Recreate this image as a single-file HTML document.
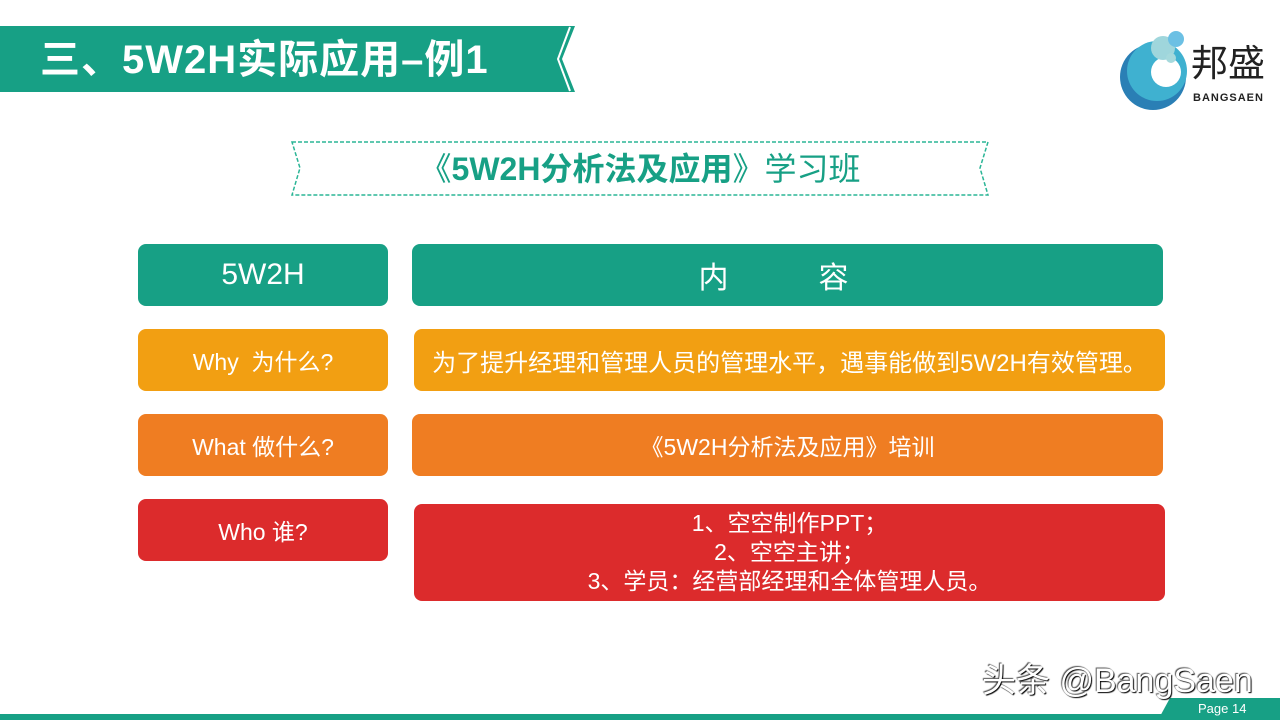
<!DOCTYPE html>
<html><head><meta charset="utf-8"><style>
body{margin:0;width:1280px;height:720px;background:#fff;position:relative;overflow:hidden;font-family:"Liberation Sans","Noto Sans CJK SC",sans-serif}
.b{position:absolute;border-radius:8px;color:#fff;display:flex;align-items:center;justify-content:center;text-align:center;font-size:22px}
.g{background:#17a085}.y{background:#f29f12}.o{background:#ef7d22}.r{background:#dc2b2c}
</style></head><body>
<svg width="1280" height="720" style="position:absolute;left:0;top:0">
<polygon points="0,26 575,26 562,59 575,92 0,92" fill="#17a085"/>
<polyline points="570,27 558,59 570,91" fill="none" stroke="#fff" stroke-width="2"/>
<polygon points="292,142 988,142 980,168 988,195 292,195 300,168" fill="none" stroke="#2bb596" stroke-width="1.5" stroke-dasharray="4,2"/>
<circle cx="1153" cy="77" r="33" fill="#2a7fb5"/>
<circle cx="1157" cy="71" r="30" fill="#3fb1d0"/>
<circle cx="1166" cy="72" r="15" fill="#fff"/>
<circle cx="1163" cy="48" r="12" fill="#9fd6dc"/>
<circle cx="1176" cy="39" r="8" fill="#6cc0e4"/>
<circle cx="1171" cy="58" r="5" fill="#a6d9dc"/>
<rect x="0" y="714" width="1280" height="6" fill="#17a085"/>
<polygon points="1170,698 1280,698 1280,720 1158,720" fill="#17a085"/>
</svg>
<div style="position:absolute;left:40px;top:36px;font-size:40px;font-weight:bold;color:#fff;line-height:48px;letter-spacing:1px">三、5W2H实际应用–例1</div>
<div style="position:absolute;left:1191px;top:42px;font-size:37px;color:#222;line-height:44px">邦盛</div>
<div style="position:absolute;left:1193px;top:92px;font-size:11px;font-weight:bold;color:#222;letter-spacing:1px">BANGSAEN</div>
<div style="position:absolute;left:292px;top:149px;width:696px;text-align:center;font-size:32px;color:#17a085;line-height:40px">《<b>5W2H分析法及应用</b>》学习班</div>
<div class="b g" style="left:138px;top:244px;width:250px;height:62px;font-size:30px">5W2H</div>
<div class="b g" style="left:398px;top:244px;width:751px;height:62px;font-size:30px;background:none">内　　　容</div>
<div class="b g" style="left:412px;top:244px;width:751px;height:62px;z-index:-1"></div>
<div class="b y" style="left:138px;top:329px;width:250px;height:62px;font-size:23px">Why&nbsp; 为什么?</div>
<div class="b y" style="left:414px;top:329px;width:751px;height:62px;font-size:24px">为了提升经理和管理人员的管理水平，遇事能做到5W2H有效管理。</div>
<div class="b o" style="left:138px;top:414px;width:250px;height:62px;font-size:23px">What 做什么?</div>
<div class="b o" style="left:412px;top:414px;width:751px;height:62px;font-size:23px">《5W2H分析法及应用》培训</div>
<div class="b r" style="left:138px;top:499px;width:250px;height:62px;font-size:23px">Who 谁?</div>
<div class="b r" style="left:414px;top:504px;width:751px;height:97px;line-height:29px;font-size:23px">1、空空制作PPT；<br>2、空空主讲；<br>3、学员：经营部经理和全体管理人员。</div>
<div style="position:absolute;left:982px;top:660px;font-size:34px;color:#fff;text-shadow:1px 1px 1px #000,-1px -1px 1px #555;line-height:42px">头条 @BangSaen</div>
<div style="position:absolute;left:1198px;top:701px;font-size:13px;color:#fff">Page 14</div>
</body></html>
